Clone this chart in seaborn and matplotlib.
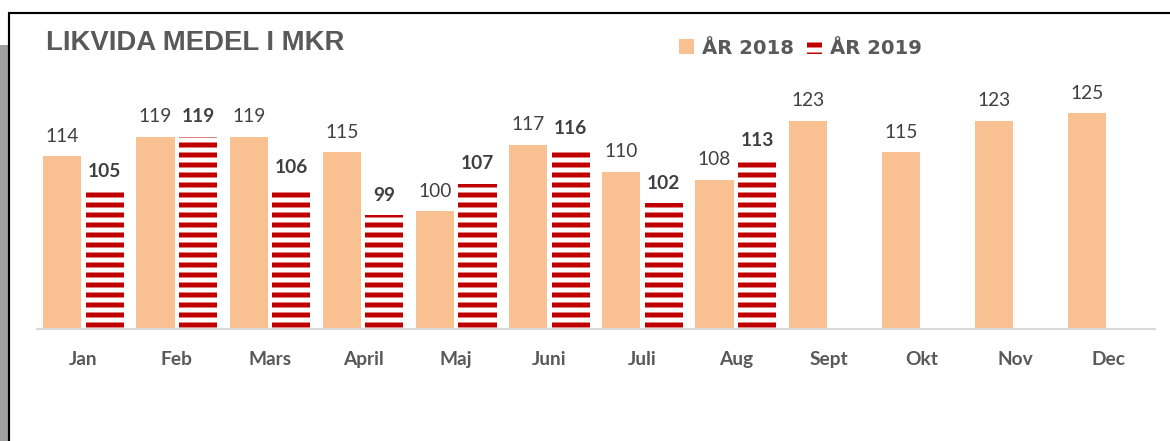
# Likvida medel i MKR - 2018 vs 2019, stapeldiagram
import numpy as np
import pandas as pd
import matplotlib.pyplot as plt
import matplotlib.patches as mpatches
from matplotlib.lines import Line2D
import seaborn as sns

# ==============================
# DATA
# ==============================
months = ['Jan', 'Feb', 'Mars', 'April', 'Maj', 'Juni', 'Juli', 'Aug',
          'Sept', 'Okt', 'Nov', 'Dec']
values_2018 = [114, 119, 119, 115, 100, 117, 110, 108, 123, 115, 123, 125]
values_2019 = [105, 119, 106, 99, 107, 116, 102, 113]
series = ['ÅR 2018', 'ÅR 2019']

rows = []
for m, v in zip(months, values_2018):
    rows.append({'Månad': m, 'År': series[0], 'Värde': v})
for m, v in zip(months, values_2019):
    rows.append({'Månad': m, 'År': series[1], 'Värde': v})
df = pd.DataFrame(rows)

# ==============================
# STIL
# ==============================
sns.set_theme(style='white')
plt.rcParams['font.family'] = ['Lato', 'DejaVu Sans']
plt.rcParams['hatch.linewidth'] = 3.0

peach = '#F9C191'
red = '#C00000'
dark = '#404040'
grey = '#595959'

fig = plt.figure(figsize=(9.75, 3.675), dpi=120)
ax = fig.add_axes([37 / 1170, 1 - 329 / 441, 1118 / 1170, 255 / 441])

sns.barplot(data=df, x='Månad', y='Värde', hue='År', order=months,
            hue_order=series, palette=[peach, peach], saturation=1,
            width=0.91, gap=0.1, legend=False, ax=ax, errorbar=None, linewidth=0)

# 2019: vit bakgrund med röda horisontella ränder
for bar in ax.containers[1]:
    bar.set_facecolor('white')
    bar.set_edgecolor(red)
    bar.set_hatch('--')
    bar.set_linewidth(0)

ax.bar_label(ax.containers[0], fmt='%.0f', padding=7, fontsize=11.5, color=dark)
ax.bar_label(ax.containers[1], fmt='%.0f', padding=7, fontsize=11.5, color=dark,
             fontweight='bold')

ax.set_ylim(70, 135)
ax.set_xlim(-0.5, 11.5)
ax.set_yticks([])
ax.set_xlabel('')
ax.set_ylabel('')
ax.tick_params(axis='x', length=0, pad=13, labelsize=11.5, labelcolor=grey)
for lbl in ax.get_xticklabels():
    lbl.set_fontweight('bold')
for side in ['top', 'right', 'left']:
    ax.spines[side].set_visible(False)
ax.spines['bottom'].set_color('#D9D9D9')
ax.spines['bottom'].set_linewidth(1.3)

# titel
fig.text(46 / 1170, 1 - 43 / 441, 'LIKVIDA MEDEL I MKR', fontsize=16.5,
         fontweight='bold', color=grey, family='Liberation Sans', va='center')

# legend
handles = [mpatches.Patch(facecolor=peach, linewidth=0),
           mpatches.Patch(facecolor='white', edgecolor=red, hatch='--', linewidth=0)]
fig.legend(handles, series, loc='center left',
           bbox_to_anchor=(679 / 1170, 1 - 48 / 441), bbox_transform=fig.transFigure,
           ncol=2, frameon=False, borderpad=0, borderaxespad=0,
           handlelength=0.77, handleheight=0.77, handletextpad=0.4,
           columnspacing=0.66, prop={'family': 'DejaVu Sans', 'weight': 'bold',
                                     'size': 11.8})
for t in fig.legends[0].get_texts():
    t.set_color(grey)

# ram runt diagrammet
fig.add_artist(mpatches.Rectangle((0, 0), 8 / 1170, 1 - 45 / 441,
                                  transform=fig.transFigure, color='#A0A0A0', lw=0))
fig.add_artist(Line2D([9 / 1170, 9 / 1170], [0, 1 - 12.5 / 441],
                      transform=fig.transFigure, color='black', lw=1.3))
fig.add_artist(Line2D([9 / 1170, 1], [1 - 12.5 / 441, 1 - 12.5 / 441],
                      transform=fig.transFigure, color='black', lw=1.3))

fig.savefig('out.png', dpi=120)
